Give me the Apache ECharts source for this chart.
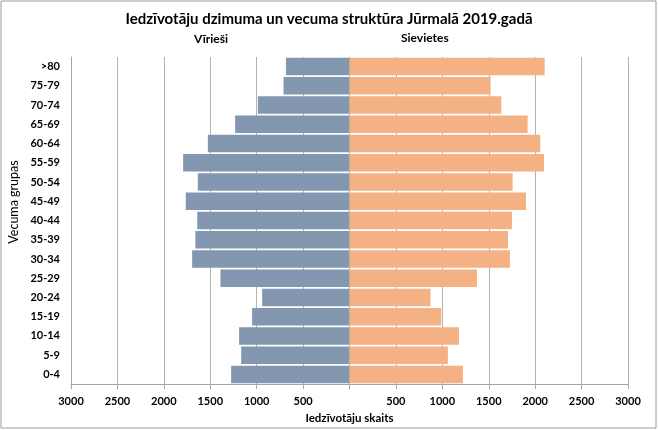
<!DOCTYPE html>
<html><head><meta charset="utf-8">
<script src="https://cdn.jsdelivr.net/npm/echarts@6/dist/echarts.min.js"></script>
<style>html,body{margin:0;padding:0;background:#fff}#c{width:658px;height:430px}</style>
</head><body><div id="c"></div>
<script>
var categories = ['0-4','5-9','10-14','15-19','20-24','25-29','30-34','35-39','40-44','45-49','50-54','55-59','60-64','65-69','70-74','75-79','>80'];
var men   = [1275,1167,1189,1049,941,1390,1695,1660,1640,1764,1634,1792,1526,1232,987,711,685];
var women = [1222,1060,1179,988,873,1373,1728,1707,1750,1901,1757,2095,2055,1919,1635,1520,2102];
var ticks = [-3000,-2500,-2000,-1500,-1000,-500,0,500,1000,1500,2000,2500,3000];

var F = 'Lato, "Open Sans", sans-serif';
var chart = echarts.init(document.getElementById('c'));
chart.setOption({
  animation: false,
  textStyle: {fontFamily: F},
  title: {text: 'Iedzīvotāju dzimuma un vecuma struktūra Jūrmalā 2019.gadā', left: 'center', top: 7,
    textStyle: {fontFamily: F, fontSize: 15, fontWeight: 'bold', color: '#000'}},
  graphic: [
    {type: 'rect', shape: {x: 1, y: 1, width: 655, height: 427}, style: {fill: 'none', stroke: '#9a9a9a', lineWidth: 1}, silent: true},
    {type: 'text', left: 194, top: 33, style: {text: 'Vīrieši', font: 'bold 12px ' + F, fill: '#000'}},
    {type: 'text', left: 401, top: 32, style: {text: 'Sievietes', font: 'bold 12px ' + F, fill: '#000'}},
    {type: 'text', x: 14, y: 202, rotation: Math.PI / 2, style: {text: 'Vecuma grupas', font: '12.5px ' + F, fill: '#000', align: 'center', verticalAlign: 'middle'}}
  ],
  grid: {left: 71, right: 30, top: 57, bottom: 46},
  xAxis: {
    type: 'value', min: -3000, max: 3000, interval: 500,
    name: 'Iedzīvotāju skaits', nameLocation: 'middle', nameGap: 27,
    nameTextStyle: {fontFamily: F, fontSize: 11.5, fontWeight: 'bold', color: '#000'},
    axisLine: {show: true, lineStyle: {color: '#a6a6a6'}},
    axisTick: {show: true, length: 5, lineStyle: {color: '#a6a6a6'}},
    axisLabel: {fontFamily: F, fontSize: 11, fontWeight: 'bold', color: '#000', margin: 12,
      formatter: function (v) { return v === 0 ? '' : String(Math.abs(v)); }},
    splitLine: {show: true, lineStyle: {color: '#b3b3b3', width: 1}}
  },
  yAxis: {
    type: 'category', data: categories,
    axisLine: {show: true, onZero: false, lineStyle: {color: '#a6a6a6'}},
    axisTick: {show: false},
    axisLabel: {fontFamily: F, fontSize: 11, fontWeight: 'bold', color: '#000', margin: 11}
  },
  series: [
    {name: 'Vīrieši', type: 'bar', stack: 'p', barCategoryGap: '9%',
     data: men.map(function (v) { return -v; }), itemStyle: {color: '#8497b0'}},
    {name: 'Sievietes', type: 'bar', stack: 'p', barCategoryGap: '9%',
     data: women, itemStyle: {color: '#f4b183'}}
  ]
});
</script></body></html>
